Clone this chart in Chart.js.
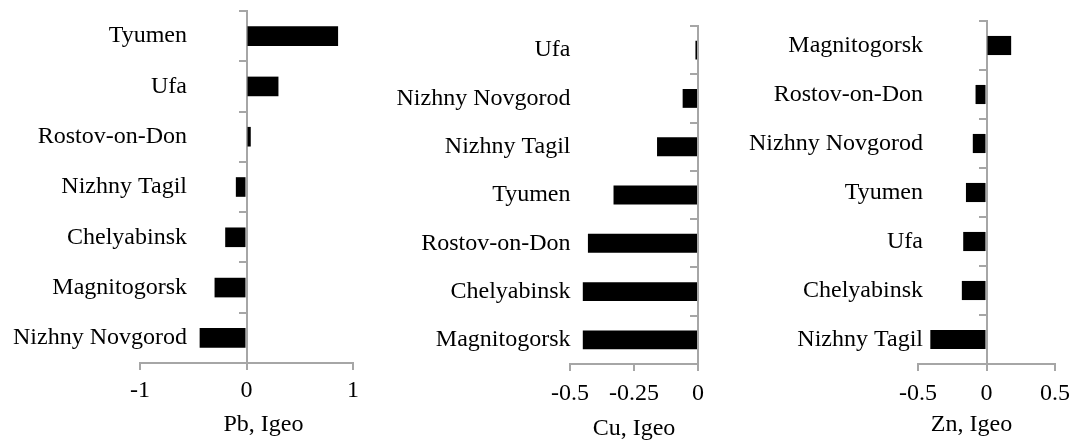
<!DOCTYPE html>
<html><head><meta charset="utf-8">
<script src="https://cdn.jsdelivr.net/npm/chart.js@4.4.0/dist/chart.umd.min.js"></script>
<style>
html,body{margin:0;padding:0;background:#fff;width:1083px;height:441px;overflow:hidden;position:relative}
canvas{position:absolute;top:0}
</style></head><body>
<canvas id="pb"></canvas><canvas id="cu"></canvas><canvas id="zn"></canvas>
<script>
// ---- data ----
const pbCities = ["Tyumen", "Ufa", "Rostov-on-Don", "Nizhny Tagil", "Chelyabinsk", "Magnitogorsk", "Nizhny Novgorod"];
const pbValues = [0.86, 0.30, 0.04, -0.10, -0.20, -0.30, -0.44];
const pbTicks = [-1, 0, 1];
const pbTickLabels = ["-1", "0", "1"];

const cuCities = ["Ufa", "Nizhny Novgorod", "Nizhny Tagil", "Tyumen", "Rostov-on-Don", "Chelyabinsk", "Magnitogorsk"];
const cuValues = [-0.01, -0.06, -0.16, -0.33, -0.43, -0.45, -0.45];
const cuTicks = [-0.5, -0.25, 0];
const cuTickLabels = ["-0.5", "-0.25", "0"];

const znCities = ["Magnitogorsk", "Rostov-on-Don", "Nizhny Novgorod", "Tyumen", "Ufa", "Chelyabinsk", "Nizhny Tagil"];
const znValues = [0.18, -0.08, -0.10, -0.15, -0.17, -0.18, -0.41];
const znTicks = [-0.5, 0, 0.5];
const znTickLabels = ["-0.5", "0", "0.5"];

// ---- styling ----
const AXIS = '#a6a6a6';
const FONT = "'Liberation Serif', 'Times New Roman', serif";
const FS = 24;

function makePanel(id, p) {
  const c = document.getElementById(id);
  c.width = p.width; c.height = 441;
  c.style.left = p.left + 'px';
  c.style.width = p.width + 'px'; c.style.height = '441px';
  const titleTop = 441 - FS * 1.2 - p.titlePadBottom;
  const xHeight = titleTop - p.chartBottom;
  new Chart(c, {
    type: 'bar',
    data: {
      labels: p.cities,
      datasets: [{
        data: p.values, backgroundColor: '#000', borderWidth: 0,
        barPercentage: 0.39, categoryPercentage: 1, xAxisID: 'x', yAxisID: 'y'
      }]
    },
    options: {
      indexAxis: 'y', responsive: false, animation: false, devicePixelRatio: 1,
      layout: { padding: { top: p.chartTop, left: 0, right: 0, bottom: 0 } },
      plugins: {
        legend: { display: false }, tooltip: { enabled: false },
        title: {
          display: true, text: p.title, position: 'bottom', fullSize: true, color: '#000',
          font: { family: FONT, size: FS, weight: 'normal' },
          padding: { top: 0, bottom: p.titlePadBottom }
        }
      },
      scales: {
        x: {
          type: 'linear', position: 'bottom', min: p.min, max: p.max,
          afterBuildTicks: s => { s.ticks = p.ticks.map(v => ({ value: v })); },
          afterFit: s => { s.height = xHeight; },
          ticks: {
            callback: (v, i) => p.tickLabels[i], color: '#000',
            font: { family: FONT, size: FS }, padding: p.xLabelPad, maxRotation: 0, autoSkip: false
          },
          grid: { drawOnChartArea: false, drawTicks: true, tickLength: 7, color: AXIS, lineWidth: 2 },
          border: { display: true, color: AXIS, width: 2 }
        },
        y: {
          type: 'category', position: { x: 0 }, offset: true,
          grid: { offset: true, drawOnChartArea: false, drawTicks: true, tickLength: 7, color: AXIS, lineWidth: 2 },
          border: { display: true, color: AXIS, width: 2 },
          ticks: { display: false }
        },
        yLab: {
          type: 'category', position: 'left', offset: true, display: true, labels: p.cities,
          grid: { display: false, offset: true }, border: { display: false },
          ticks: {
            color: '#000', font: { family: FONT, size: FS, lineHeight: 0.8 },
            mirror: true, crossAlign: 'far', padding: p.labelPad, autoSkip: false
          },
          afterFit: s => { s.width = p.padLeft; }
        },
        padR: {
          type: 'linear', position: 'right', display: true,
          ticks: { display: false }, grid: { display: false }, border: { display: false },
          afterFit: s => { s.width = p.padRight; }
        }
      }
    }
  });
}

makePanel('pb', {
  left: 0, width: 527, padLeft: 140, padRight: 174, chartTop: 11, chartBottom: 363,
  titlePadBottom: 2, xLabelPad: 6, labelPad: -127, title: 'Pb, Igeo',
  cities: pbCities, values: pbValues, ticks: pbTicks, tickLabels: pbTickLabels, min: -1, max: 1
});
makePanel('cu', {
  left: 390, width: 488, padLeft: 180, padRight: 180, chartTop: 26, chartBottom: 364,
  titlePadBottom: -2, xLabelPad: 8, labelPad: -173.5, title: 'Cu, Igeo',
  cities: cuCities, values: cuValues, ticks: cuTicks, tickLabels: cuTickLabels, min: -0.5, max: 0
});
makePanel('zn', {
  left: 740, width: 463, padLeft: 178, padRight: 148, chartTop: 21, chartBottom: 364,
  titlePadBottom: 2, xLabelPad: 8, labelPad: -169, title: 'Zn, Igeo',
  cities: znCities, values: znValues, ticks: znTicks, tickLabels: znTickLabels, min: -0.5, max: 0.5
});
</script>
</body></html>
